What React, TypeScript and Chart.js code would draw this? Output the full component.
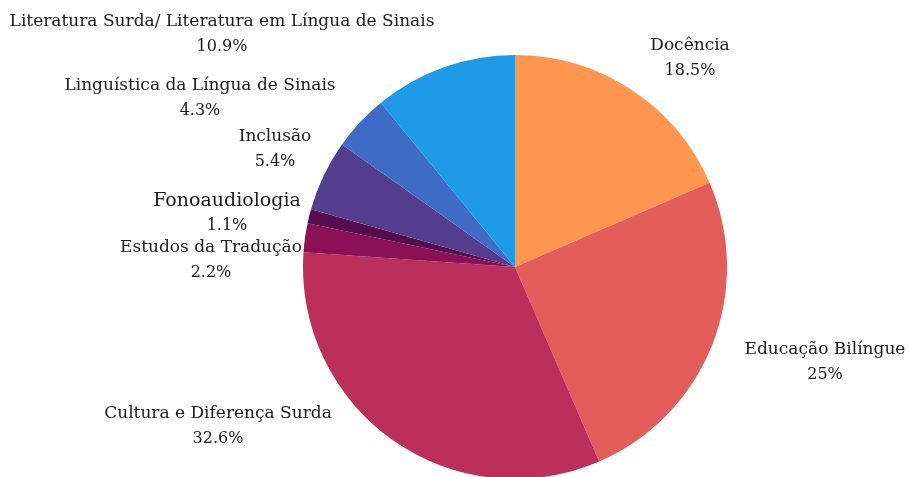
import React, { useEffect, useRef } from "react";
import { Chart, registerables } from "chart.js";

Chart.register(...registerables);

const categories = [
  "Docência",
  "Educação Bilíngue",
  "Cultura e Diferença Surda",
  "Estudos da Tradução",
  "Fonoaudiologia",
  "Inclusão",
  "Linguística da Língua de Sinais",
  "Literatura Surda/ Literatura em Língua de Sinais",
];
const values = [18.5, 25, 32.6, 2.2, 1.1, 5.4, 4.3, 10.9];
const valueLabels = ["18.5%", "25%", "32.6%", "2.2%", "1.1%", "5.4%", "4.3%", "10.9%"];
const colors = ["#FF9650", "#E35D5A", "#BA2F5B", "#8A1155", "#560C4F", "#533D8C", "#3E6CC6", "#1D9BE6"];

// label centre positions relative to the pie centre (px), and font sizes
const labelLayout = [
  { dx: 175, dy: -221, size: 17 },
  { dx: 310, dy: 83, size: 17 },
  { dx: -297, dy: 147, size: 17 },
  { dx: -304, dy: -19, size: 17 },
  { dx: -288, dy: -66, size: 19 },
  { dx: -240, dy: -130, size: 17 },
  { dx: -315, dy: -181, size: 17 },
  { dx: -293, dy: -245, size: 17 },
];

const labelPlugin = {
  id: "sliceLabels",
  afterDraw(chart: any) {
    const ctx = chart.ctx;
    const arc = chart.getDatasetMeta(0).data[0];
    if (!arc) return;
    const cx = arc.x;
    const cy = arc.y;
    ctx.save();
    ctx.fillStyle = "#1a1a1a";
    ctx.textAlign = "center";
    ctx.textBaseline = "middle";
    categories.forEach((name, i) => {
      const l = labelLayout[i];
      ctx.font = `${l.size}px "DejaVu Serif"`;
      ctx.fillText(name, cx + l.dx, cy + l.dy);
      ctx.font = `16px "DejaVu Serif"`;
      ctx.fillText(valueLabels[i], cx + l.dx, cy + l.dy + 25);
    });
    ctx.restore();
  },
};

export default function App() {
  const ref = useRef<HTMLCanvasElement | null>(null);
  useEffect(() => {
    if (!ref.current) return;
    const chart = new Chart(ref.current, {
      type: "pie",
      data: {
        labels: categories,
        datasets: [
          {
            data: values,
            backgroundColor: colors,
            borderWidth: 0,
          },
        ],
      },
      options: {
        animation: false,
        responsive: false,
        layout: { padding: { left: 303, right: 181, top: 55, bottom: 1 } },
        plugins: { legend: { display: false }, tooltip: { enabled: false } },
      },
      plugins: [labelPlugin],
    });
    return () => chart.destroy();
  }, []);
  return (
    <div style={{ position: "fixed", left: 0, top: 0, width: 908, height: 477, overflow: "hidden", background: "#fff" }}>
      <canvas ref={ref} width={908} height={480} style={{ display: "block" }} />
    </div>
  );
}
